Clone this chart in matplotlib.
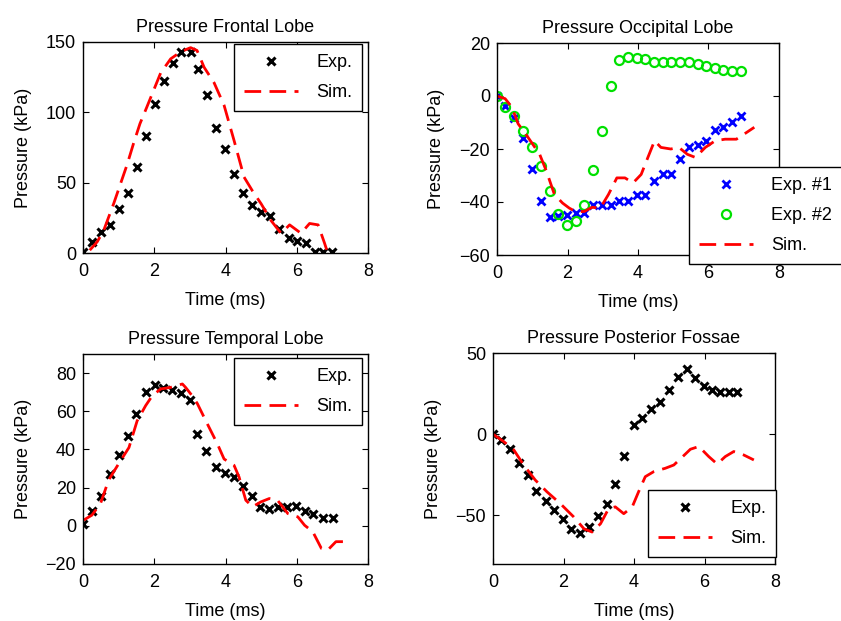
import numpy as np
import matplotlib
matplotlib.use('Agg')
import matplotlib.pyplot as plt

plt.rcParams['font.family'] = ['Liberation Sans', 'DejaVu Sans']
plt.rcParams['font.size'] = 13

# Frontal lobe
t_fr_exp = [0, 0.25, 0.5, 0.77, 1.01, 1.27, 1.52, 1.77, 2.02, 2.27, 2.53, 2.76, 3.02, 3.23,
            3.49, 3.74, 3.99, 4.24, 4.5, 4.74, 5.0, 5.25, 5.51, 5.77, 6.01, 6.26, 6.5, 6.73, 7.0]
p_fr_exp = [1, 7.8, 15, 20, 31, 43, 61, 83, 106, 122, 135, 143, 143, 131,
            112, 89, 74, 56, 43, 34, 29, 26, 17, 11, 8.5, 7, 1, 1, 1]
t_fr_sim = [0.19, 0.4, 0.58, 0.86, 1.05, 1.24, 1.42, 1.6, 1.78, 1.94, 2.18, 2.46, 2.74, 3.02,
            3.2, 3.4, 3.68, 3.96, 4.24, 4.52, 4.76, 5.0, 5.28, 5.56, 5.8, 6.12, 6.36, 6.6, 6.78, 6.87]
p_fr_sim = [2, 8, 16, 35, 49, 63, 78, 92, 103, 113, 128, 138, 143, 146,
            144, 132, 121, 105, 80, 54, 44, 35, 23, 14, 20, 14, 21, 20, 7, 0]

# Occipital lobe
t_oc_exp = [0, 0.23, 0.48, 0.74, 0.995, 1.24, 1.49, 1.74, 1.98, 2.23, 2.47, 2.73, 2.98, 3.23,
            3.47, 3.72, 3.97, 4.21, 4.44, 4.7, 4.95, 5.19, 5.44, 5.69, 5.93, 6.19, 6.42, 6.68, 6.93]
p_oc_exp1 = [0, -3.9, -8.3, -15.9, -27.7, -39.7, -45.5, -45.2, -45, -44.2, -44, -41.3, -41.3, -41.3,
             -39.7, -39.5, -37.5, -37.5, -32, -29.3, -29.3, -23.6, -19.4, -18.4, -17.1, -13, -11.8, -9.7, -7.7]
p_oc_exp2 = [0, -4, -7.7, -13.3, -19.2, -26.4, -35.7, -44.6, -48.6, -47.1, -41.3, -28, -13.3, 3.8,
             13.6, 14.9, 14.2, 14, 13, 12.7, 12.7, 12.7, 12.7, 12.1, 11.3, 10.7, 10, 9.4, 9.4]
t_oc_sim = [0, 0.23, 0.42, 0.6, 0.88, 1.21, 1.4, 1.63, 1.86, 2.05, 2.23, 2.47, 2.7, 2.93, 3.16,
            3.4, 3.63, 3.86, 4.09, 4.28, 4.47, 4.65, 4.93, 5.16, 5.4, 5.63, 5.91, 6.19, 6.47, 6.79, 7.02, 7.3]
p_oc_sim = [0, -1, -4.2, -10.5, -15.6, -22, -28.3, -37.2, -40.4, -42.3, -43.6, -43.6, -42, -42.3, -37.2,
            -30.9, -30.9, -32.8, -29.6, -23.2, -16.9, -19.4, -20, -19.4, -22, -23.2, -19.4, -16.9, -16.3, -16.3, -14.3, -11.8]

# Temporal lobe
t_te_exp = [0, 0.25, 0.51, 0.77, 1.01, 1.27, 1.5, 1.76, 2.01, 2.24, 2.49, 2.74, 3.0, 3.21,
            3.46, 3.73, 3.98, 4.23, 4.48, 4.74, 4.98, 5.23, 5.46, 5.73, 5.98, 6.23, 6.47, 6.73, 7.01]
p_te_exp = [1, 8, 15.6, 27, 37, 47, 58.6, 70, 74, 72, 71, 69.6, 66, 48,
            39, 31, 27.6, 25.6, 21, 15.6, 10, 9, 10, 10, 10.4, 7.8, 6, 4.3, 4.3]
t_te_sim = [0.02, 0.25, 0.49, 0.72, 1.0, 1.29, 1.52, 1.76, 1.94, 2.18, 2.46, 2.79, 2.88, 3.07, 3.21,
            3.49, 3.77, 3.96, 4.24, 4.38, 4.57, 4.76, 4.99, 5.23, 5.46, 5.75, 6.03, 6.22, 6.45, 6.69,
            6.87, 7.1, 7.39]
p_te_sim = [3, 5.6, 11.6, 24, 32.5, 41, 55, 63, 68, 71.7, 72.5, 74.3, 72.5, 68, 64,
            53.4, 43, 35, 31.7, 25.6, 13.4, 10, 12.5, 14.3, 13.4, 6.4, 4.7, 0.3, -3.1, -11.8,
            -12.7, -8.3, -8.3]

# Posterior fossae
t_po_exp = [0, 0.23, 0.47, 0.73, 0.98, 1.22, 1.49, 1.72, 1.99, 2.21, 2.48, 2.72, 2.97, 3.22,
            3.47, 3.73, 3.99, 4.23, 4.48, 4.75, 4.99, 5.24, 5.49, 5.74, 5.98, 6.22, 6.45, 6.69, 6.93]
p_po_exp = [0, -3.5, -9.3, -17.6, -25.2, -34.9, -41.3, -46.9, -52.5, -58.7, -60.7, -57.2, -50.6, -42.8,
            -30.8, -13.2, 5.8, 9.9, 15.7, 19.6, 27.5, 35.1, 40.3, 34.7, 29.5, 27.5, 25.8, 25.8, 25.8]
t_po_sim = [0, 0.3, 0.59, 0.87, 1.2, 1.53, 1.91, 2.29, 2.58, 2.81, 3.05, 3.28, 3.47, 3.71, 3.95,
            4.13, 4.32, 4.56, 4.89, 5.13, 5.36, 5.6, 5.84, 6.12, 6.36, 6.59, 6.83, 7.11, 7.4]
p_po_sim = [0, -4.5, -9.7, -19, -28.3, -35.5, -42.8, -51, -58.3, -60.3, -55.2, -45.9, -44.8, -49, -44.8,
            -35.5, -26.2, -23.1, -21, -19, -14.3, -9.3, -7.6, -13.8, -18.4, -13.8, -10.7, -12.8, -15.9]

fig = plt.figure(figsize=(8.41, 6.21), dpi=100)
W, H = 841.0, 621.0


def make_ax(l, t, r, b):
    return fig.add_axes([l / W, 1 - b / H, (r - l) / W, (b - t) / H])


ax1 = make_ax(83, 42, 368, 253)
ax2 = make_ax(497, 43, 779, 255)
ax3 = make_ax(83, 354, 368, 564)
ax4 = make_ax(493, 353, 775, 564)

exp_kw = dict(ls='none', marker='x', ms=6, mew=2.2, color='k')
sim_kw = dict(color='r', lw=2, dashes=(6, 3))

ax1.plot(t_fr_exp, p_fr_exp, label='Exp.', **exp_kw)
ax1.plot(t_fr_sim, p_fr_sim, label='Sim.', **sim_kw)
ax1.set_ylim(0, 150)
ax1.set_yticks([0, 50, 100, 150])
ax1.set_title('Pressure Frontal Lobe')

ax2.plot(t_oc_exp, p_oc_exp1, ls='none', marker='x', ms=6, mew=2, color='b', label='Exp. #1')
ax2.plot(t_oc_exp, p_oc_exp2, ls='none', marker='o', ms=6.5, mew=1.6, mfc='none', mec='#00e000',
         label='Exp. #2')
ax2.plot(t_oc_sim, p_oc_sim, label='Sim.', **sim_kw)
ax2.set_ylim(-60, 20)
ax2.set_yticks([-60, -40, -20, 0, 20])
ax2.set_title('Pressure Occipital Lobe')

ax3.plot(t_te_exp, p_te_exp, label='Exp.', **exp_kw)
ax3.plot(t_te_sim, p_te_sim, label='Sim.', **sim_kw)
ax3.set_ylim(-20, 90)
ax3.set_yticks([-20, 0, 20, 40, 60, 80])
ax3.set_title('Pressure Temporal Lobe')

ax4.plot(t_po_exp, p_po_exp, label='Exp.', **exp_kw)
ax4.plot(t_po_sim, p_po_sim, label='Sim.', **sim_kw)
ax4.set_ylim(-80, 50)
ax4.set_yticks([-50, 0, 50])
ax4.set_title('Pressure Posterior Fossae')

for ax in (ax1, ax2, ax3, ax4):
    ax.set_xlim(0, 8)
    ax.set_xticks([0, 2, 4, 6, 8])
    ax.set_xlabel('Time (ms)', labelpad=9)
    ax.set_ylabel('Pressure (kPa)', labelpad=10)
    ax.tick_params(direction='in', top=True, right=True, length=4, width=0.8)
    ax.tick_params(axis='x', pad=7)
    ax.tick_params(axis='y', pad=5)
    ax.set_title(ax.get_title(), pad=7, fontsize=13)
    for s in ax.spines.values():
        s.set_linewidth(1.0)

leg_kw = dict(frameon=True, fancybox=False, framealpha=1, edgecolor='k', borderaxespad=0,
              borderpad=0.55, handlelength=3.0, handletextpad=1.0, labelspacing=0.72,
              numpoints=1, bbox_transform=fig.transFigure)

l1 = ax1.legend(loc='upper right', bbox_to_anchor=(362 / W, 1 - 44 / H), **leg_kw)
l2 = ax2.legend(loc='upper left', bbox_to_anchor=(689 / W, 1 - 167 / H), **leg_kw)
l3 = ax3.legend(loc='upper right', bbox_to_anchor=(362 / W, 1 - 358 / H), **leg_kw)
l4 = ax4.legend(loc='lower right', bbox_to_anchor=(776 / W, 1 - 557 / H), **leg_kw)
for lg in (l1, l2, l3, l4):
    lg.get_frame().set_linewidth(1.0)
    lg.set_zorder(10)

fig.savefig('out.png', dpi=100)
